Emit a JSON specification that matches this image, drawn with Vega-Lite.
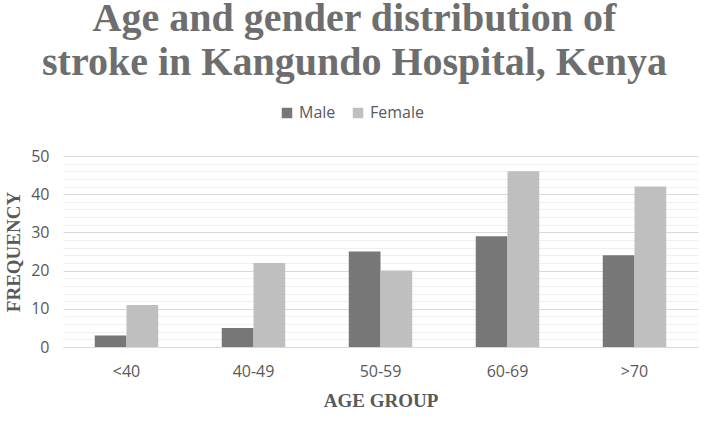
{
  "$schema": "https://vega.github.io/schema/vega-lite/v6.json",
  "width": 635,
  "height": 191,
  "autosize": {"type": "none"},
  "padding": {"left": 63, "top": 156, "right": 12, "bottom": 93},
  "background": "white",
  "title": {
    "text": ["Age and gender distribution of", "stroke in Kangundo Hospital, Kenya"],
    "font": "Liberation Serif",
    "fontSize": 40,
    "fontWeight": "bold",
    "color": "#6e6e6e",
    "lineHeight": 44,
    "anchor": "middle",
    "frame": "group",
    "dx": -26,
    "offset": 22
  },
  "data": {
    "values": [
      {"age": "<40", "gender": "Male", "count": 3},
      {"age": "<40", "gender": "Female", "count": 11},
      {"age": "40-49", "gender": "Male", "count": 5},
      {"age": "40-49", "gender": "Female", "count": 22},
      {"age": "50-59", "gender": "Male", "count": 25},
      {"age": "50-59", "gender": "Female", "count": 20},
      {"age": "60-69", "gender": "Male", "count": 29},
      {"age": "60-69", "gender": "Female", "count": 46},
      {"age": ">70", "gender": "Male", "count": 24},
      {"age": ">70", "gender": "Female", "count": 42}
    ]
  },
  "mark": {"type": "bar"},
  "encoding": {
    "x": {
      "field": "age",
      "type": "nominal",
      "sort": ["<40", "40-49", "50-59", "60-69", ">70"],
      "scale": {"paddingInner": 0.5, "paddingOuter": 0.25},
      "axis": {
        "title": "AGE GROUP",
        "titleFont": "Liberation Serif",
        "titleFontSize": 19,
        "titleFontWeight": "bold",
        "titleColor": "#595959",
        "titlePadding": 12,
        "labelFont": "Open Sans",
        "labelFontSize": 16,
        "labelColor": "#595959",
        "labelAngle": 0,
        "labelPadding": 16,
        "domain": true,
        "domainColor": "#d9d9d9",
        "ticks": false,
        "grid": false
      }
    },
    "xOffset": {"field": "gender", "type": "nominal", "sort": ["Male", "Female"], "scale": {"paddingInner": 0, "paddingOuter": 0}},
    "y": {
      "field": "count",
      "type": "quantitative",
      "scale": {"domain": [0, 50]},
      "axis": {
        "title": "FREQUENCY",
        "titleFont": "Liberation Serif",
        "titleFontSize": 19,
        "titleFontWeight": "bold",
        "titleColor": "#595959",
        "titlePadding": 7,
        "values": [0,2,4,6,8,10,12,14,16,18,20,22,24,26,28,30,32,34,36,38,40,42,44,46,48,50],
        "labelExpr": "datum.value % 10 === 0 ? datum.label : ''",
        "labelFont": "Open Sans",
        "labelFontSize": 16,
        "labelColor": "#595959",
        "labelPadding": 14,
        "domain": false,
        "ticks": false,
        "grid": true,
        "gridColor": {"condition": {"test": "datum.value % 10 === 0", "value": "#d9d9d9"}, "value": "#efefef"}
      }
    },
    "color": {
      "field": "gender",
      "type": "nominal",
      "sort": ["Male", "Female"],
      "scale": {"domain": ["Male", "Female"], "range": ["#777777", "#bfbfbf"]},
      "legend": {
        "title": null,
        "orient": "none",
        "direction": "horizontal",
        "legendX": 216,
        "legendY": -51,
        "symbolType": "square",
        "symbolSize": 110,
        "symbolStrokeWidth": 0,
        "labelFont": "Open Sans",
        "labelFontSize": 16,
        "labelColor": "#595959",
        "columnPadding": 14,
        "labelOffset": 4
      }
    }
  },
  "config": {"view": {"stroke": null}}
}
